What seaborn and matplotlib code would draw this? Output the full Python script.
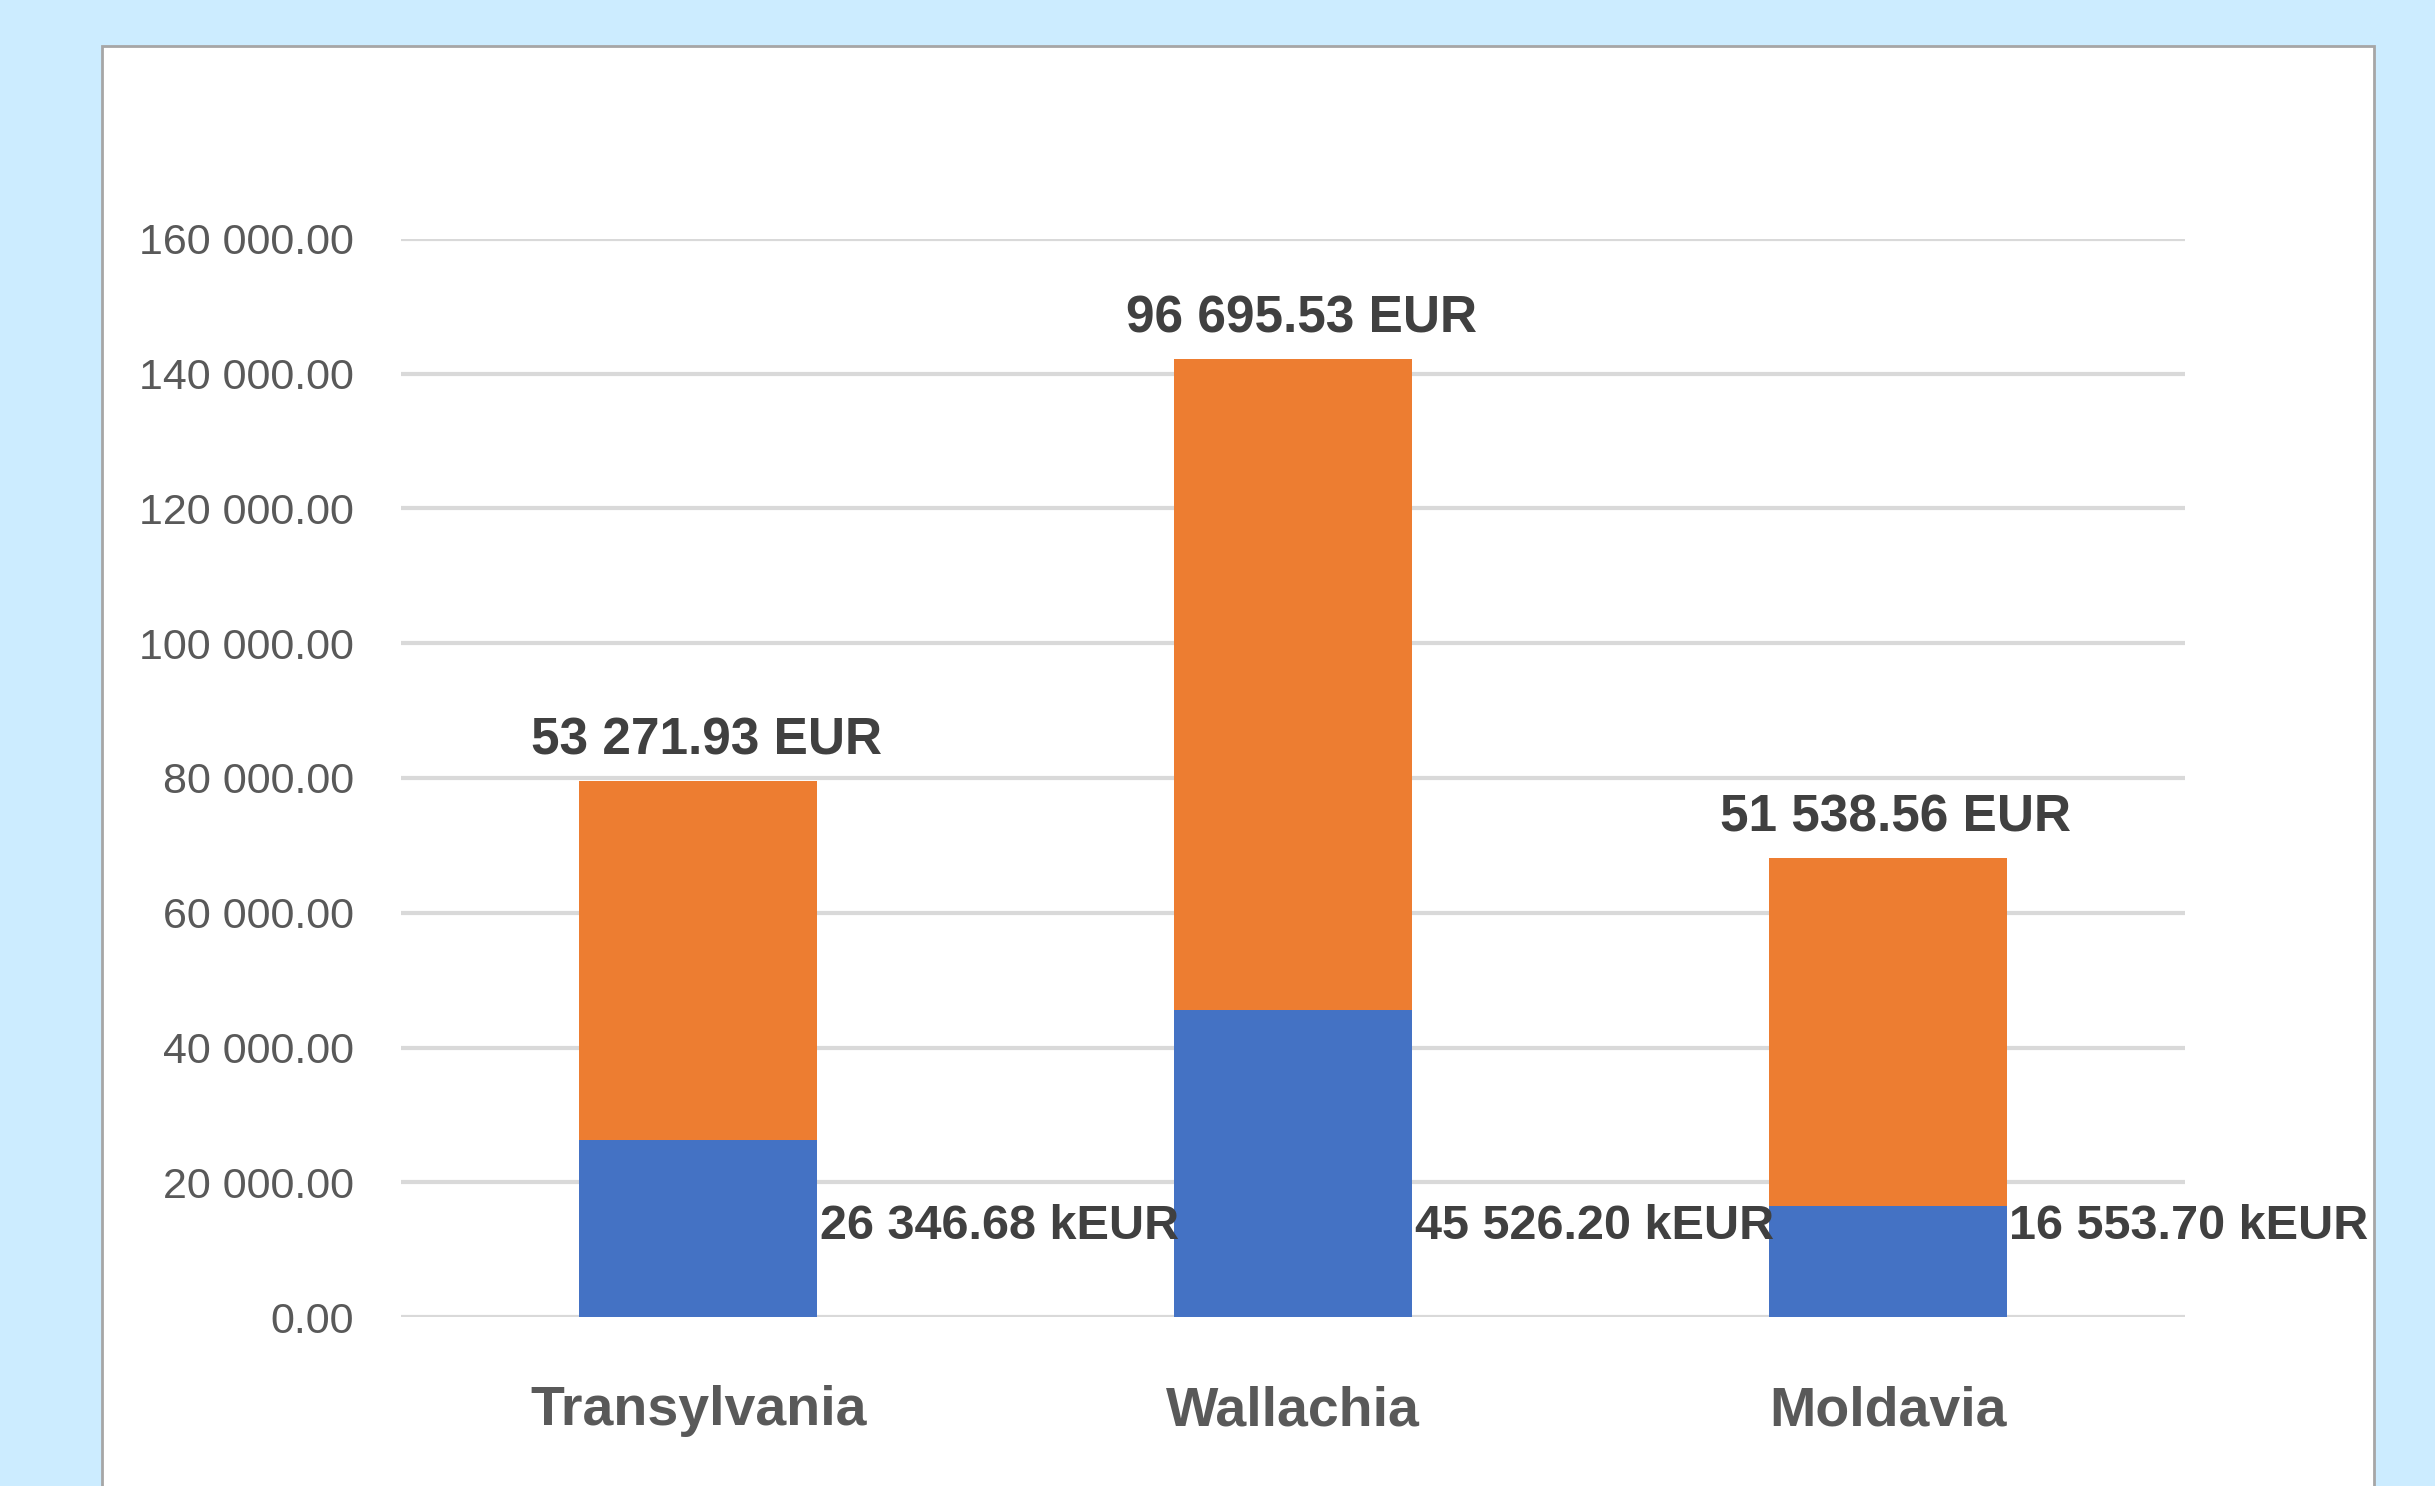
import numpy as np
import pandas as pd
import matplotlib.pyplot as plt
import seaborn as sns
from matplotlib.patches import Rectangle
from matplotlib.ticker import FuncFormatter

# Chart data
regions = ['Transylvania', 'Wallachia', 'Moldavia']
keur_values = [26346.68, 45526.20, 16553.70]
eur_values = [53271.93, 96695.53, 51538.56]
y_ticks = [0, 20000, 40000, 60000, 80000, 100000, 120000, 140000, 160000]

df = pd.DataFrame({'region': regions, 'keur': keur_values, 'eur': eur_values})
df['total'] = df['keur'] + df['eur']


def fmt(v):
    return f'{v:,.2f}'.replace(',', ' ')


sns.set_theme(style='white')
plt.rcParams['font.family'] = ['Liberation Sans', 'DejaVu Sans']

fig = plt.figure(figsize=(24.35, 14.86), dpi=100, facecolor='#CCECFF')
# white chart panel behind the axes
fig.patches.append(Rectangle((0.042, -0.01), 0.933, 0.979, transform=fig.transFigure,
                             facecolor='white', edgecolor='#A6A6A6', lw=2, zorder=-5))

ax = fig.add_axes([0.1647, 0.1137, 0.7326, 0.7255])
ax.set_facecolor('white')

# stacked bars: totals first (orange), then the blue part over them
sns.barplot(data=df, x='region', y='total', order=regions, color='#ED7D31',
            saturation=1, width=0.4, errorbar=None, linewidth=0, ax=ax)
sns.barplot(data=df, x='region', y='keur', order=regions, color='#4472C4',
            saturation=1, width=0.4, errorbar=None, linewidth=0, ax=ax)

ax.set_xlim(-0.5, 2.5)
ax.set_ylim(0, 160000)
ax.set_yticks(y_ticks)
ax.yaxis.set_major_formatter(FuncFormatter(lambda v, p: fmt(v)))
ax.yaxis.grid(True, color='#D9D9D9', lw=3)
ax.set_axisbelow(True)
sns.despine(ax=ax, left=True, bottom=True)
ax.set_xlabel('')
ax.set_ylabel('')
ax.tick_params(axis='y', length=0, pad=34, labelsize=31, labelcolor='#595959')
ax.tick_params(axis='x', length=0, pad=49, labelsize=40, labelcolor='#595959')
for lbl in ax.get_xticklabels():
    lbl.set_fontweight('bold')

# data labels
for i, row in df.iterrows():
    ax.annotate(fmt(row['eur']) + ' EUR', xy=(i, row['total']), xytext=(6, 11),
                textcoords='offset points', ha='center', va='bottom',
                fontsize=37, fontweight='bold', color='#404040')
    ax.annotate(fmt(row['keur']) + ' kEUR', xy=(i + 0.2, 14000), xytext=(2, -3),
                textcoords='offset points', ha='left', va='center',
                fontsize=35, fontweight='bold', color='#404040', annotation_clip=False)

fig.savefig('out.png', dpi=100, facecolor=fig.get_facecolor())
